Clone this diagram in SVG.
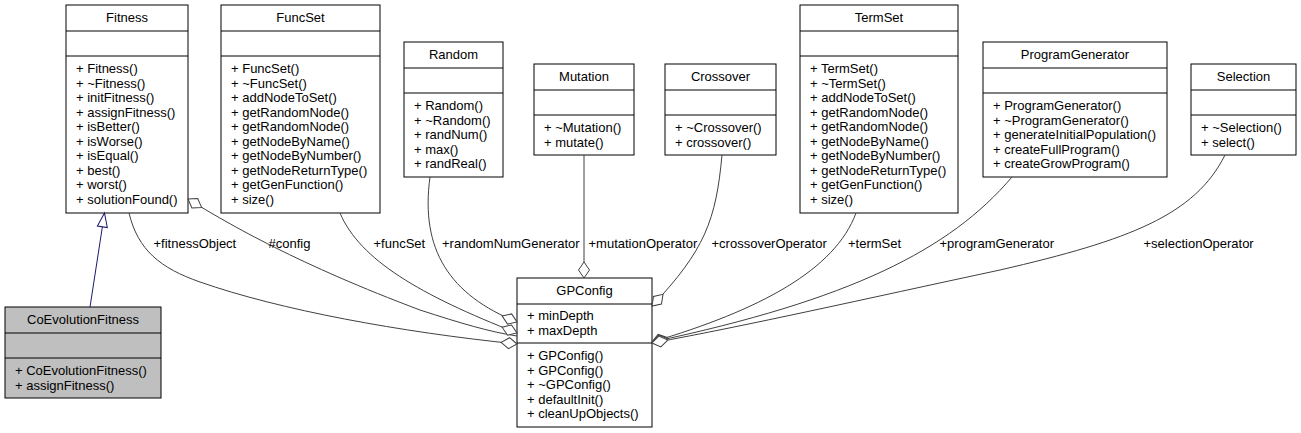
<svg xmlns="http://www.w3.org/2000/svg" width="1301" height="433" viewBox="0 0 1301 433">
<style>
text{font-family:"Liberation Sans",Arial,Helvetica,sans-serif;font-size:13px;fill:#000}
.t{text-anchor:middle}
.box{fill:#fff;stroke:#000;stroke-width:1}
.cur{fill:#bfbfbf}
.div{stroke:#000;stroke-width:1}
.agg{fill:none;stroke:#404040;stroke-width:1;marker-end:url(#od)}
.plain{fill:none;stroke:#404040;stroke-width:1}
.inh{fill:none;stroke:#191970;stroke-width:1;marker-end:url(#tri)}
</style>
<defs>
<marker id="od" markerUnits="userSpaceOnUse" markerWidth="18" markerHeight="13" refX="16" refY="5.5" orient="auto" overflow="visible"><path d="M0,5.5 L8,0 L16,5.5 L8,11 Z" fill="#fff" stroke="#404040"/></marker>
<marker id="tri" markerUnits="userSpaceOnUse" markerWidth="16" markerHeight="12" refX="14" refY="5" orient="auto" overflow="visible"><path d="M0,0 L14,5 L0,10 Z" fill="#fff" stroke="#191970"/></marker>
</defs>

<g id="Fitness">
<rect class="box" x="66" y="5" width="122" height="208"/>
<line class="div" x1="66" y1="31" x2="188" y2="31"/><line class="div" x1="66" y1="56" x2="188" y2="56"/>
<text class="t" x="127" y="22">Fitness</text>
<text x="76" y="73"><tspan x="76">+ Fitness()</tspan><tspan x="76" dy="14.5">+ ~Fitness()</tspan><tspan x="76" dy="14.5">+ initFitness()</tspan><tspan x="76" dy="14.5">+ assignFitness()</tspan><tspan x="76" dy="14.5">+ isBetter()</tspan><tspan x="76" dy="14.5">+ isWorse()</tspan><tspan x="76" dy="14.5">+ isEqual()</tspan><tspan x="76" dy="14.5">+ best()</tspan><tspan x="76" dy="14.5">+ worst()</tspan><tspan x="76" dy="14.5">+ solutionFound()</tspan></text>
</g>

<g id="FuncSet">
<rect class="box" x="221" y="5" width="159" height="208"/>
<line class="div" x1="221" y1="31" x2="380" y2="31"/><line class="div" x1="221" y1="56" x2="380" y2="56"/>
<text class="t" x="300.5" y="22">FuncSet</text>
<text x="231" y="73"><tspan x="231">+ FuncSet()</tspan><tspan x="231" dy="14.5">+ ~FuncSet()</tspan><tspan x="231" dy="14.5">+ addNodeToSet()</tspan><tspan x="231" dy="14.5">+ getRandomNode()</tspan><tspan x="231" dy="14.5">+ getRandomNode()</tspan><tspan x="231" dy="14.5">+ getNodeByName()</tspan><tspan x="231" dy="14.5">+ getNodeByNumber()</tspan><tspan x="231" dy="14.5">+ getNodeReturnType()</tspan><tspan x="231" dy="14.5">+ getGenFunction()</tspan><tspan x="231" dy="14.5">+ size()</tspan></text>
</g>

<g id="Random">
<rect class="box" x="404" y="42" width="99" height="135"/>
<line class="div" x1="404" y1="68" x2="503" y2="68"/><line class="div" x1="404" y1="93" x2="503" y2="93"/>
<text class="t" x="453.5" y="59">Random</text>
<text x="414" y="110"><tspan x="414">+ Random()</tspan><tspan x="414" dy="14.5">+ ~Random()</tspan><tspan x="414" dy="14.5">+ randNum()</tspan><tspan x="414" dy="14.5">+ max()</tspan><tspan x="414" dy="14.5">+ randReal()</tspan></text>
</g>

<g id="Mutation">
<rect class="box" x="534" y="64" width="100" height="91"/>
<line class="div" x1="534" y1="90" x2="634" y2="90"/><line class="div" x1="534" y1="115" x2="634" y2="115"/>
<text class="t" x="584" y="81">Mutation</text>
<text x="544" y="132"><tspan x="544">+ ~Mutation()</tspan><tspan x="544" dy="14.5">+ mutate()</tspan></text>
</g>

<g id="Crossover">
<rect class="box" x="665" y="64" width="111" height="91"/>
<line class="div" x1="665" y1="90" x2="776" y2="90"/><line class="div" x1="665" y1="115" x2="776" y2="115"/>
<text class="t" x="720.5" y="81">Crossover</text>
<text x="675" y="132"><tspan x="675">+ ~Crossover()</tspan><tspan x="675" dy="14.5">+ crossover()</tspan></text>
</g>

<g id="TermSet">
<rect class="box" x="800" y="5" width="158" height="208"/>
<line class="div" x1="800" y1="31" x2="958" y2="31"/><line class="div" x1="800" y1="56" x2="958" y2="56"/>
<text class="t" x="879" y="22">TermSet</text>
<text x="810" y="73"><tspan x="810">+ TermSet()</tspan><tspan x="810" dy="14.5">+ ~TermSet()</tspan><tspan x="810" dy="14.5">+ addNodeToSet()</tspan><tspan x="810" dy="14.5">+ getRandomNode()</tspan><tspan x="810" dy="14.5">+ getRandomNode()</tspan><tspan x="810" dy="14.5">+ getNodeByName()</tspan><tspan x="810" dy="14.5">+ getNodeByNumber()</tspan><tspan x="810" dy="14.5">+ getNodeReturnType()</tspan><tspan x="810" dy="14.5">+ getGenFunction()</tspan><tspan x="810" dy="14.5">+ size()</tspan></text>
</g>

<g id="ProgramGenerator">
<rect class="box" x="983" y="42" width="184" height="135"/>
<line class="div" x1="983" y1="68" x2="1167" y2="68"/><line class="div" x1="983" y1="93" x2="1167" y2="93"/>
<text class="t" x="1075" y="59">ProgramGenerator</text>
<text x="993" y="110"><tspan x="993">+ ProgramGenerator()</tspan><tspan x="993" dy="14.5">+ ~ProgramGenerator()</tspan><tspan x="993" dy="14.5">+ generateInitialPopulation()</tspan><tspan x="993" dy="14.5">+ createFullProgram()</tspan><tspan x="993" dy="14.5">+ createGrowProgram()</tspan></text>
</g>

<g id="Selection">
<rect class="box" x="1191" y="64" width="105" height="91"/>
<line class="div" x1="1191" y1="90" x2="1296" y2="90"/><line class="div" x1="1191" y1="115" x2="1296" y2="115"/>
<text class="t" x="1243.5" y="81">Selection</text>
<text x="1201" y="132"><tspan x="1201">+ ~Selection()</tspan><tspan x="1201" dy="14.5">+ select()</tspan></text>
</g>

<g id="CoEvolutionFitness">
<rect class="box cur" x="5" y="307" width="156" height="91"/>
<line class="div" x1="5" y1="333" x2="161" y2="333"/><line class="div" x1="5" y1="358" x2="161" y2="358"/>
<text class="t" x="83" y="324">CoEvolutionFitness</text>
<text x="15" y="375"><tspan x="15">+ CoEvolutionFitness()</tspan><tspan x="15" dy="14.5">+ assignFitness()</tspan></text>
</g>

<g id="GPConfig">
<rect class="box" x="517" y="278" width="135" height="149"/>
<line class="div" x1="517" y1="304" x2="652" y2="304"/><line class="div" x1="517" y1="343" x2="652" y2="343"/>
<text class="t" x="584.5" y="295">GPConfig</text>
<text x="527" y="320"><tspan x="527">+ minDepth</tspan><tspan x="527" dy="14.5">+ maxDepth</tspan></text>
<text x="527" y="360"><tspan x="527">+ GPConfig()</tspan><tspan x="527" dy="14.5">+ GPConfig()</tspan><tspan x="527" dy="14.5">+ ~GPConfig()</tspan><tspan x="527" dy="14.5">+ defaultInit()</tspan><tspan x="527" dy="14.5">+ cleanUpObjects()</tspan></text>
</g>

<g id="connectors">
<path class="inh" d="M90,307 L104.5,213"/>
<path class="agg" d="M129,213 C138,250 160,268 200,282 C280,310 400,332 517,344"/>
<path class="agg" d="M517,336 C490,332 460,323 420,310 C300,265 230,225 188,199"/>
<path class="agg" d="M340,213 C360,260 420,295 517,333"/>
<path class="agg" d="M430,177 C420,250 450,295 517,322"/>
<path class="agg" d="M584,155 L584,278"/>
<path class="agg" d="M722,155 C716,220 705,250 652,306"/>
<path class="agg" d="M856,213 C835,270 760,310 652,342"/>
<path class="agg" d="M1012,177 C950,250 850,300 652,342"/>
<path class="agg" d="M1225,155 C1195,215 1130,240 1000,270 C860,300 750,325 652,343"/>
<text x="153.5" y="248">+fitnessObject</text>
<text x="268.5" y="248">#config</text>
<text x="373.5" y="248">+funcSet</text>
<text x="442" y="248">+randomNumGenerator</text>
<text x="588.5" y="248">+mutationOperator</text>
<text x="711.5" y="248">+crossoverOperator</text>
<text x="848" y="248">+termSet</text>
<text x="939.5" y="248">+programGenerator</text>
<text x="1143.5" y="248">+selectionOperator</text>
</g>
</svg>
